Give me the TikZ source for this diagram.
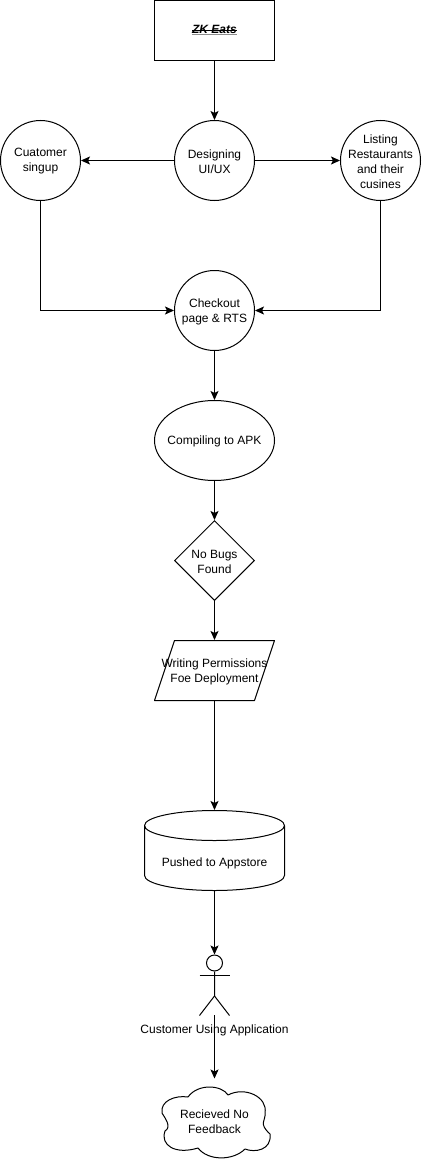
\documentclass[tikz,border=0pt]{standalone}
\usepackage{fontspec}
\setmainfont{Liberation Sans}
\usetikzlibrary{arrows.meta,shapes.geometric}
\tikzset{
  base/.style={font=\fontsize{12}{15}\selectfont, align=center, inner sep=0pt, text=black},
  boxnode/.style={base, draw, rectangle, minimum width=120pt, minimum height=60pt},
  circ/.style={base, draw, circle, minimum size=80pt},
  oval/.style={base, draw, ellipse, minimum width=120pt, minimum height=80pt},
  dia/.style={base, draw, diamond, minimum width=80pt, minimum height=80pt, aspect=1},
  ghost/.style={base, rectangle},
  inlabel/.style={base, yshift=-1pt},
  outline/.style={line width=1pt, line join=round},
  flow/.style={line width=1pt, -{Stealth[length=9pt,width=8pt,inset=2pt]}},
  every node/.append style={line width=1pt}
}
\newcommand{\strikeit}{%
  \setbox0=\hbox{\bfseries\itshape ZK Eats}%
  \rlap{\color{black!45}\raisebox{-1.6pt}{\rule{\wd0}{1.2pt}}}%
  \rlap{\color{black}\raisebox{3.4pt}{\rule{\wd0}{0.9pt}}}%
  \box0}
\begin{document}
\begin{tikzpicture}[x=1pt,y=-1pt]
\useasboundingbox (0,0) rectangle (421,1161);
\fill[white] (0,0) rectangle (421,1161);

\node[boxnode] (top) at (214.5,30.5) {\strikeit};
\node[circ, label={[inlabel]center:Designing\\UI/UX}] (design) at (214.5,160.5) {};
\node[circ, label={[inlabel]center:Cuatomer\\singup}] (signup) at (40.5,160.5) {};
\node[circ, label={[inlabel]center:Listing\\Restaurants\\and their\\cusines}] (listing) at (380.5,160.5) {};
\node[circ, label={[inlabel]center:Checkout\\page \& RTS}] (checkout) at (214.5,310.5) {};
\node[oval, label={[inlabel]center:Compiling to APK}] (apk) at (214.5,440.5) {};
\node[dia, label={[inlabel]center:No Bugs\\Found}] (bugs) at (214.5,560.5) {};

\node[ghost, minimum width=120pt, minimum height=60pt, label={[inlabel]center:Writing Permissions\\Foe Deployment}] (perm) at (214.5,670.5) {};
\draw[outline] (174.5,640.5) -- (274.5,640.5) -- (254.5,700.5) -- (154.5,700.5) -- cycle;

\node[ghost, minimum width=140pt, minimum height=80pt] (store) at (214.5,850.5) {};
\node[ghost] (storetext) at (214.5,863.5) {Pushed to Appstore};
\draw[outline] (144.5,825.5) arc[start angle=180,end angle=360,x radius=70,y radius=15]
  arc[start angle=0,end angle=180,x radius=70,y radius=15] -- (144.5,875.5)
  arc[start angle=180,end angle=0,x radius=70,y radius=15] -- (284.5,825.5);

\node[draw, circle, minimum size=16pt, inner sep=0pt] (head) at (214.5,963) {};
\coordinate (hip) at (214.5,996);
\coordinate (lefthand) at (199.5,975.5);
\coordinate (righthand) at (229.5,975.5);
\coordinate (leftfoot) at (199.5,1015.5);
\coordinate (rightfoot) at (229.5,1015.5);
\draw[outline] (head) -- (hip) -- (leftfoot);
\draw[outline] (hip) -- (rightfoot);
\draw[outline] (lefthand) -- (righthand);
\coordinate (actorbase) at (214.5,1015);
\node[ghost] (actorlabel) at (214.5,1030) {Customer Using Application};

\node[ghost, minimum width=108pt, minimum height=86pt] (cloud) at (214.5,1122) {Recieved No\\Feedback};
\draw[outline] (162,1113) .. controls (160,1101) and (175,1095) .. (188,1097)
  .. controls (198,1083) and (222,1085) .. (228,1095)
  .. controls (245,1086) and (268,1097) .. (265,1113)
  .. controls (266,1121) and (258,1123) .. (270,1134)
  .. controls (272,1150) and (255,1153) .. (245,1149)
  .. controls (233,1161) and (208,1161) .. (198,1148)
  .. controls (175,1155) and (160,1145) .. (165,1131)
  .. controls (172,1127) and (165,1118) .. (162,1113) -- cycle;

\draw[flow] (top) -- (design);
\draw[flow] (design) -- (signup);
\draw[flow] (design) -- (listing);
\draw[flow] (signup) |- (checkout);
\draw[flow] (listing) |- (checkout);
\draw[flow] (checkout) -- (apk);
\draw[flow] (apk) -- (bugs);
\draw[flow] (bugs) -- (perm);
\draw[flow] (perm) -- (store);
\draw[flow] (store) -- (head);
\draw[flow] (actorbase) -- (cloud);
\end{tikzpicture}
\end{document}
